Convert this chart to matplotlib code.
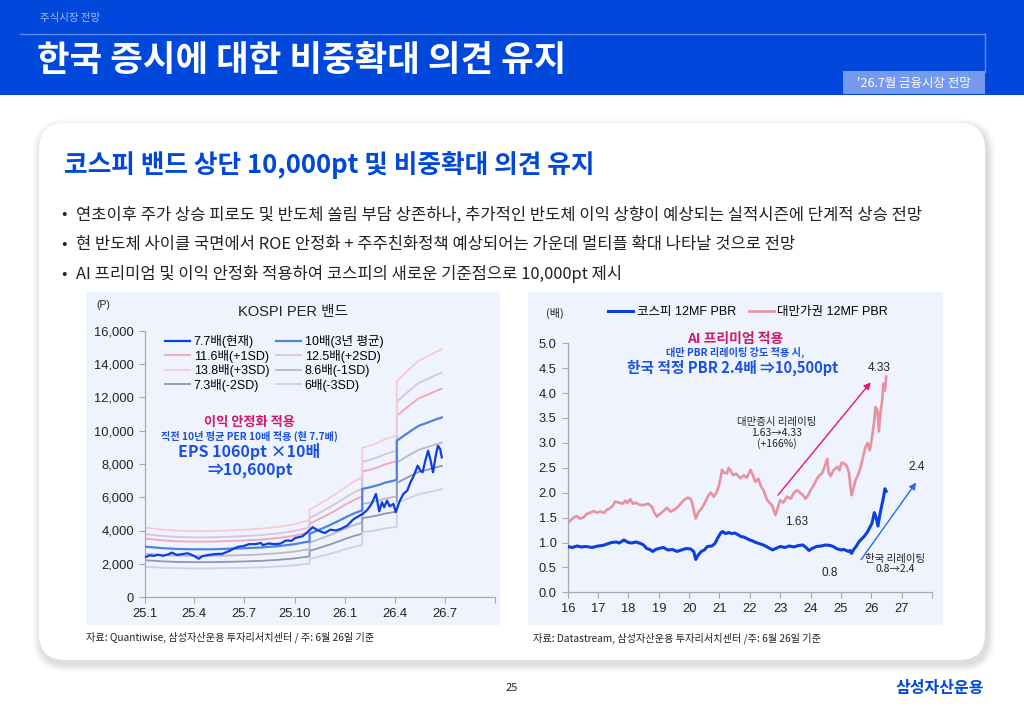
import numpy as np
import pandas as pd
import matplotlib
matplotlib.use('Agg')
import matplotlib.pyplot as plt
import matplotlib.dates as mdates
from matplotlib.patches import Rectangle, FancyBboxPatch
from matplotlib.lines import Line2D
from matplotlib.ticker import FuncFormatter, FixedLocator

plt.rcParams['font.family'] = ['Noto Sans CJK KR', 'DejaVu Sans']
CF = ['Liberation Sans', 'Noto Sans CJK KR', 'DejaVu Sans']

# ---------------- data: left chart (KOSPI PER band) ----------------
eps_dates = ['2025-01-01', '2025-02-01', '2025-03-01', '2025-04-01', '2025-05-01', '2025-06-01',
             '2025-07-01', '2025-08-01', '2025-09-01', '2025-10-01', '2025-10-15', '2025-10-28',
             '2025-10-28', '2025-11-15', '2025-12-01', '2025-12-15', '2026-01-01', '2026-01-15',
             '2026-02-01', '2026-02-01', '2026-02-15', '2026-03-01', '2026-03-15', '2026-04-05',
             '2026-04-05', '2026-04-20', '2026-05-01', '2026-05-15', '2026-06-01', '2026-06-15',
             '2026-06-26']
eps_values = [303, 294, 289, 287, 287, 290,
              293, 298, 306, 318, 327, 334,
              380, 405, 428, 450, 478, 500,
              522, 650, 660, 672, 688, 704,
              940, 975, 1000, 1030, 1050, 1068,
              1080]
band_labels = ['10배(3년 평균)', '11.6배(+1SD)', '12.5배(+2SD)', '13.8배(+3SD)',
               '8.6배(-1SD)', '7.3배(-2SD)', '6배(-3SD)']
band_multiples = [10, 11.6, 12.5, 13.8, 8.6, 7.3, 6]

kospi_dates = ['2025-01-02', '2025-01-10', '2025-01-17', '2025-01-24', '2025-02-03', '2025-02-12',
               '2025-02-19', '2025-02-28', '2025-03-10', '2025-03-20', '2025-03-31', '2025-04-09',
               '2025-04-15', '2025-04-25', '2025-05-09', '2025-05-22', '2025-06-04', '2025-06-12',
               '2025-06-20', '2025-06-30', '2025-07-10', '2025-07-22', '2025-07-31', '2025-08-04',
               '2025-08-14', '2025-08-25', '2025-09-05', '2025-09-15', '2025-09-25', '2025-10-02',
               '2025-10-15', '2025-10-24', '2025-11-03', '2025-11-10', '2025-11-20', '2025-11-25',
               '2025-12-05', '2025-12-15', '2025-12-24', '2026-01-05', '2026-01-15', '2026-01-22',
               '2026-02-02', '2026-02-10', '2026-02-18', '2026-02-26', '2026-03-04', '2026-03-09',
               '2026-03-13', '2026-03-18', '2026-03-23', '2026-03-30', '2026-04-03', '2026-04-10',
               '2026-04-17', '2026-04-24', '2026-04-30', '2026-05-06', '2026-05-13', '2026-05-18',
               '2026-05-22', '2026-05-27', '2026-06-01', '2026-06-05', '2026-06-10', '2026-06-15',
               '2026-06-19', '2026-06-23', '2026-06-26']
kospi_values = [2400, 2510, 2470, 2540, 2480, 2560,
                2670, 2530, 2580, 2630, 2480, 2300,
                2450, 2520, 2580, 2600, 2770, 2920,
                3020, 3070, 3180, 3180, 3250, 3120,
                3220, 3180, 3210, 3400, 3380, 3550,
                3650, 3900, 4200, 4050, 3900, 3850,
                4050, 4000, 4100, 4300, 4650, 4800,
                5000, 5230, 5600, 6200, 5150, 5700,
                5400, 5800, 5450, 5600, 5100, 5750,
                6200, 6400, 6900, 7300, 7900, 7600,
                7500, 8200, 8800, 8300, 7500, 8500,
                9100, 8900, 8400]
left_xticks = ['2025-01-01', '2025-04-01', '2025-07-01', '2025-10-01', '2026-01-01',
               '2026-04-01', '2026-07-01', '2026-10-01']
left_xlabels = ['25.1', '25.4', '25.7', '25.10', '26.1', '26.4', '26.7', '']
left_yticks = [0, 2000, 4000, 6000, 8000, 10000, 12000, 14000, 16000]

# ---------------- data: right chart (12MF PBR) ----------------
twn_year = [16.00, 16.10, 16.19, 16.30, 16.40, 16.52, 16.62, 16.74, 16.85, 16.95, 17.07, 17.20,
            17.30, 17.40, 17.50, 17.56, 17.70, 17.80, 17.90, 17.95, 18.06, 18.15, 18.25, 18.35,
            18.50, 18.65, 18.77, 18.85, 18.94, 19.05, 19.15, 19.27, 19.38, 19.49, 19.60, 19.72,
            19.82, 19.95, 20.04, 20.10, 20.15, 20.22, 20.30, 20.42, 20.52, 20.64, 20.72, 20.81,
            20.90, 20.97, 21.04, 21.08, 21.15, 21.25, 21.30, 21.36, 21.45, 21.55, 21.69, 21.80,
            21.90, 22.02, 22.10, 22.18, 22.28, 22.35, 22.45, 22.57, 22.65, 22.73, 22.80, 22.84,
            22.92, 23.00, 23.10, 23.23, 23.35, 23.45, 23.56, 23.65, 23.75, 23.83, 23.92, 24.00,
            24.10, 24.22, 24.30, 24.38, 24.45, 24.55, 24.60, 24.66, 24.75, 24.88, 24.95, 25.02,
            25.10, 25.18, 25.26, 25.30, 25.35, 25.40, 25.48, 25.56, 25.65, 25.72, 25.81, 25.88,
            25.95, 26.02, 26.09, 26.14, 26.20, 26.25, 26.30, 26.36, 26.40, 26.45, 26.49]
twn_pbr = [1.39, 1.45, 1.50, 1.53, 1.48, 1.50, 1.57, 1.60, 1.63, 1.60, 1.62, 1.60,
           1.66, 1.69, 1.75, 1.82, 1.80, 1.78, 1.84, 1.79, 1.87, 1.78, 1.80, 1.76,
           1.75, 1.78, 1.72, 1.60, 1.52, 1.58, 1.63, 1.70, 1.62, 1.65, 1.70, 1.78,
           1.85, 1.90, 1.88, 1.80, 1.65, 1.48, 1.60, 1.69, 1.80, 1.95, 2.00, 1.92,
           2.00, 2.12, 2.30, 2.46, 2.40, 2.39, 2.50, 2.45, 2.35, 2.38, 2.29, 2.35,
           2.30, 2.46, 2.35, 2.22, 2.28, 2.15, 2.05, 1.85, 1.80, 1.75, 1.62, 1.55,
           1.70, 1.85, 1.80, 1.92, 1.88, 2.00, 2.05, 2.00, 1.95, 1.88, 1.95, 2.05,
           2.15, 2.29, 2.35, 2.39, 2.50, 2.68, 2.40, 2.33, 2.45, 2.52, 2.45, 2.60,
           2.59, 2.55, 2.42, 2.20, 1.95, 2.05, 2.25, 2.35, 2.52, 2.70, 2.92, 3.00,
           2.85, 3.10, 3.40, 3.72, 3.66, 3.23, 3.60, 3.86, 4.19, 4.05, 4.33]
kor_year = [16.00, 16.15, 16.30, 16.45, 16.60, 16.80, 17.00, 17.15, 17.30, 17.45, 17.60, 17.70,
            17.85, 18.00, 18.10, 18.25, 18.40, 18.50, 18.60, 18.70, 18.80, 18.90, 19.00, 19.15,
            19.30, 19.45, 19.60, 19.75, 19.90, 20.05, 20.15, 20.22, 20.30, 20.40, 20.50, 20.60,
            20.75, 20.85, 20.95, 21.05, 21.10, 21.20, 21.30, 21.40, 21.50, 21.60, 21.70, 21.80,
            21.90, 22.00, 22.10, 22.20, 22.30, 22.45, 22.60, 22.75, 22.85, 23.00, 23.15, 23.30,
            23.45, 23.60, 23.75, 23.85, 23.95, 24.05, 24.20, 24.35, 24.50, 24.65, 24.75, 24.85,
            25.00, 25.10, 25.25, 25.30, 25.35, 25.42, 25.50, 25.60, 25.70, 25.80, 25.88, 25.95,
            26.02, 26.10, 26.16, 26.22, 26.28, 26.33, 26.40, 26.45, 26.49]
kor_pbr = [0.92, 0.90, 0.93, 0.91, 0.92, 0.90, 0.93, 0.94, 0.97, 1.00, 1.01, 0.99,
           1.05, 1.00, 0.99, 1.01, 0.98, 0.95, 0.88, 0.86, 0.82, 0.86, 0.88, 0.90,
           0.85, 0.86, 0.82, 0.85, 0.88, 0.87, 0.82, 0.66, 0.75, 0.82, 0.85, 0.92,
           0.93, 0.98, 1.10, 1.20, 1.22, 1.18, 1.20, 1.18, 1.19, 1.16, 1.12, 1.11,
           1.08, 1.05, 1.03, 1.00, 0.98, 0.95, 0.90, 0.85, 0.88, 0.92, 0.90, 0.93,
           0.91, 0.94, 0.95, 0.90, 0.84, 0.88, 0.92, 0.93, 0.95, 0.94, 0.92, 0.88,
           0.85, 0.86, 0.82, 0.84, 0.78, 0.86, 0.92, 1.02, 1.08, 1.15, 1.22, 1.30,
           1.38, 1.60, 1.50, 1.33, 1.55, 1.70, 1.90, 2.08, 2.03]
right_xticks = list(range(16, 29))
right_xlabels = [str(y) for y in range(16, 28)] + ['']
right_yticks = [0.0, 0.5, 1.0, 1.5, 2.0, 2.5, 3.0, 3.5, 4.0, 4.5, 5.0]

# ---------------- figure ----------------
W, H = 1024, 709
fig = plt.figure(figsize=(W / 100, H / 100), dpi=100)
bg = fig.add_axes([0, 0, 1, 1], zorder=0)
bg.set_xlim(0, W)
bg.set_ylim(H, 0)
bg.axis('off')

BLUE = '#0047DC'
TXT = '#222222'

# header
bg.add_patch(Rectangle((0, 0), W, 95, color=BLUE, lw=0))
bg.plot([20, 985], [34, 34], color='#5F8BEE', lw=1)
bg.plot([985, 985], [34, 72], color='#5F8BEE', lw=1)
bg.add_patch(Rectangle((843, 71), 142, 23, color='#7598F0', lw=0))
bg.text(40, 18, '주식시장 전망', color='#A9BFF5', fontsize=7.5, va='center')
bg.text(37, 61, '한국 증시에 대한 비중확대 의견 유지', color='white', fontsize=25.5,
        fontweight='bold', va='center')
bg.text(914, 83, "'26.7월 금융시장 전망", color='white', fontsize=9, va='center', ha='center')

# card with shadow
for i, a in enumerate([0.025, 0.03, 0.035, 0.04]):
    p = 8 - 2 * i
    bg.add_patch(FancyBboxPatch((39 - p + 2, 123 - p + 4), 946 + 2 * p, 537 + 2 * p,
                                boxstyle='round,pad=0,rounding_size=%d' % (26 + p),
                                fc='#000000', ec='none', alpha=a))
bg.add_patch(FancyBboxPatch((39, 123), 946, 537, boxstyle='round,pad=0,rounding_size=26',
                            fc='white', ec='none'))

bg.text(64, 165, '코스피 밴드 상단 10,000pt 및 비중확대 의견 유지', color=BLUE, fontsize=18.5,
        fontweight='bold', va='center')
bullets = ['연초이후 주가 상승 피로도 및 반도체 쏠림 부담 상존하나, 추가적인 반도체 이익 상향이 예상되는 실적시즌에 단계적 상승 전망',
           '현 반도체 사이클 국면에서 ROE 안정화 + 주주친화정책 예상되어는 가운데 멀티플 확대 나타날 것으로 전망',
           'AI 프리미엄 및 이익 안정화 적용하여 코스피의 새로운 기준점으로 10,000pt 제시']
for yy, b in zip([215, 245, 274], bullets):
    bg.text(61, yy, '•', color=TXT, fontsize=11.5, va='center')
    bg.text(76, yy, b, color=TXT, fontsize=11.9, va='center')

# chart panels
PANEL = '#EEF3FD'
bg.add_patch(Rectangle((86, 292), 414, 333, color=PANEL, lw=0))
bg.add_patch(Rectangle((528, 292), 415, 333, color=PANEL, lw=0))

# footers
bg.text(86, 637, '자료: Quantiwise, 삼성자산운용 투자리서치센터 / 주: 6월 26일 기준', color=TXT,
        fontsize=7.3, va='center')
bg.text(533, 638, '자료: Datastream, 삼성자산운용 투자리서치센터 /주: 6월 26일 기준', color=TXT,
        fontsize=7.3, va='center')
bg.text(512, 688, '25', color=TXT, fontsize=8, va='center', ha='center')
bg.text(984, 688, '삼성자산운용', color=BLUE, fontsize=11.5, fontweight='bold', va='center', ha='right')


def ax_rect(x0, y0, x1, y1):
    return [x0 / W, 1 - y1 / H, (x1 - x0) / W, (y1 - y0) / H]


def style_axes(ax):
    ax.set_facecolor('none')
    for s in ['top', 'right']:
        ax.spines[s].set_visible(False)
    for s in ['left', 'bottom']:
        ax.spines[s].set_color('#A8A8B0')
        ax.spines[s].set_linewidth(0.9)
    ax.tick_params(direction='out', length=4, width=0.8, color='#A8A8B0',
                   labelsize=9.3, labelcolor=TXT, pad=4)
    for lab in ax.get_xticklabels() + ax.get_yticklabels():
        lab.set_family(CF)


# ---------------- left chart ----------------
axL = fig.add_axes(ax_rect(145, 331, 495, 597), zorder=2)
ed = mdates.date2num(pd.to_datetime(eps_dates))
eps = np.array(eps_values, dtype=float)
band_colors = {'10배(3년 평균)': '#4F80E3', '11.6배(+1SD)': '#F3A6B6', '12.5배(+2SD)': '#D9C3E0',
               '13.8배(+3SD)': '#F9CAD3', '8.6배(-1SD)': '#B9BAC2', '7.3배(-2SD)': '#8F96B7',
               '6배(-3SD)': '#CDD0E7'}
handles = {}
for lab, mul in zip(band_labels, band_multiples):
    lw = 1.6 if mul == 10 else 1.3
    ln, = axL.plot(ed, eps * mul, color=band_colors[lab], lw=lw, zorder=2 if mul != 10 else 3)
    handles[lab] = ln
kd = mdates.date2num(pd.to_datetime(kospi_dates))
kl, = axL.plot(kd, kospi_values, color='#0B3FE0', lw=1.6, zorder=4)
handles['7.7배(현재)'] = kl

axL.set_xlim(mdates.date2num(pd.Timestamp('2025-01-01')), mdates.date2num(pd.Timestamp('2026-10-01')))
axL.set_ylim(0, 16000)
axL.xaxis.set_major_locator(FixedLocator(mdates.date2num(pd.to_datetime(left_xticks))))
axL.set_xticklabels(left_xlabels)
axL.set_yticks(left_yticks)
axL.yaxis.set_major_formatter(FuncFormatter(lambda v, p: f'{v:,.0f}'))
style_axes(axL)

order = ['7.7배(현재)', '11.6배(+1SD)', '13.8배(+3SD)', '7.3배(-2SD)',
         '10배(3년 평균)', '12.5배(+2SD)', '8.6배(-1SD)', '6배(-3SD)']
legL = axL.legend([handles[o] for o in order], order, ncol=2, loc='upper left',
                  bbox_to_anchor=(0.057, 0.985), frameon=False,
                  handlelength=2.0, handletextpad=0.3, columnspacing=0.55,
                  labelspacing=0.12, borderpad=0, borderaxespad=0,
                  prop={'family': CF, 'size': 9})

bg.text(293, 312, 'KOSPI PER 밴드', color=TXT, fontsize=10.5, ha='center', va='center', family=CF)
bg.text(103, 305, '(P)', color=TXT, fontsize=7.5, ha='center', va='center', family=CF)
bg.text(249, 422, '이익 안정화 적용', color='#D2166A', fontsize=9.5, fontweight='bold',
        ha='center', va='center')
bg.text(249, 436, '직전 10년 평균 PER 10배 적용 (현 7.7배)', color='#1A50E6', fontsize=7.3,
        fontweight='bold', ha='center', va='center')
bg.text(249, 452, 'EPS 1060pt ×10배', color='#1A50E6', fontsize=11.5, fontweight='semibold',
        ha='center', va='center')
bg.text(250, 470, '⇒10,600pt', color='#1A50E6', fontsize=11.5, fontweight='semibold',
        ha='center', va='center')

# ---------------- right chart ----------------
axR = fig.add_axes(ax_rect(567.7, 343.3, 932, 592.3), zorder=2)
tl, = axR.plot(twn_year, twn_pbr, color='#E8919F', lw=1.9, zorder=2)
kl2, = axR.plot(kor_year, kor_pbr, color='#0B3FE0', lw=2.2, zorder=3)
axR.set_xlim(16, 28)
axR.set_ylim(0, 5)
axR.set_xticks(right_xticks)
axR.set_xticklabels(right_xlabels)
axR.set_yticks(right_yticks)
axR.yaxis.set_major_formatter(FuncFormatter(lambda v, p: f'{v:.1f}'))
style_axes(axR)
axR.legend([kl2, tl], ['코스피 12MF PBR', '대만가권 12MF PBR'], ncol=2, loc='upper left',
           bbox_to_anchor=(0.111, 1.148), frameon=False, handlelength=2.0, handletextpad=0.3,
           columnspacing=1.0, borderpad=0, borderaxespad=0, prop={'family': CF, 'size': 9})

bg.text(555, 313, '(배)', color=TXT, fontsize=8, ha='center', va='center')
bg.text(735, 339, 'AI 프리미엄 적용', color='#D2166A', fontsize=10, fontweight='bold',
        ha='center', va='center')
bg.text(735, 352, '대만 PBR 리레이팅 강도 적용 시,', color='#1A50E6', fontsize=7.3,
        fontweight='bold', ha='center', va='center')
bg.text(733, 368, '한국 적정 PBR 2.4배 ⇒10,500pt', color='#1A50E6', fontsize=10.6,
        fontweight='bold', ha='center', va='center')
bg.text(879, 368, '4.33', color=TXT, fontsize=8.5, ha='center', va='center', family=CF)
bg.text(777, 433, '대만증시 리레이팅\n1.63→4.33\n(+166%)', color=TXT, fontsize=7.5,
        ha='center', va='center', linespacing=1.1)
bg.text(797, 522, '1.63', color=TXT, fontsize=8.5, ha='center', va='center', family=CF)
bg.text(917, 467, '2.4', color=TXT, fontsize=8.5, ha='center', va='center', family=CF)
bg.text(830, 573, '0.8', color=TXT, fontsize=8.5, ha='center', va='center', family=CF)
bg.text(895, 564, '한국 리레이팅\n0.8→2.4', color=TXT, fontsize=7.5, ha='center', va='center',
        linespacing=1.1)

axR.annotate('', xy=(26.04, 4.26), xytext=(22.87, 1.91),
             arrowprops=dict(arrowstyle='-|>', color='#E0157A', lw=1.0, mutation_scale=10))
axR.annotate('', xy=(27.53, 2.25), xytext=(25.61, 0.61),
             arrowprops=dict(arrowstyle='-|>', color='#2E6BE6', lw=1.0, mutation_scale=10))

fig.savefig('out.png', dpi=100)
